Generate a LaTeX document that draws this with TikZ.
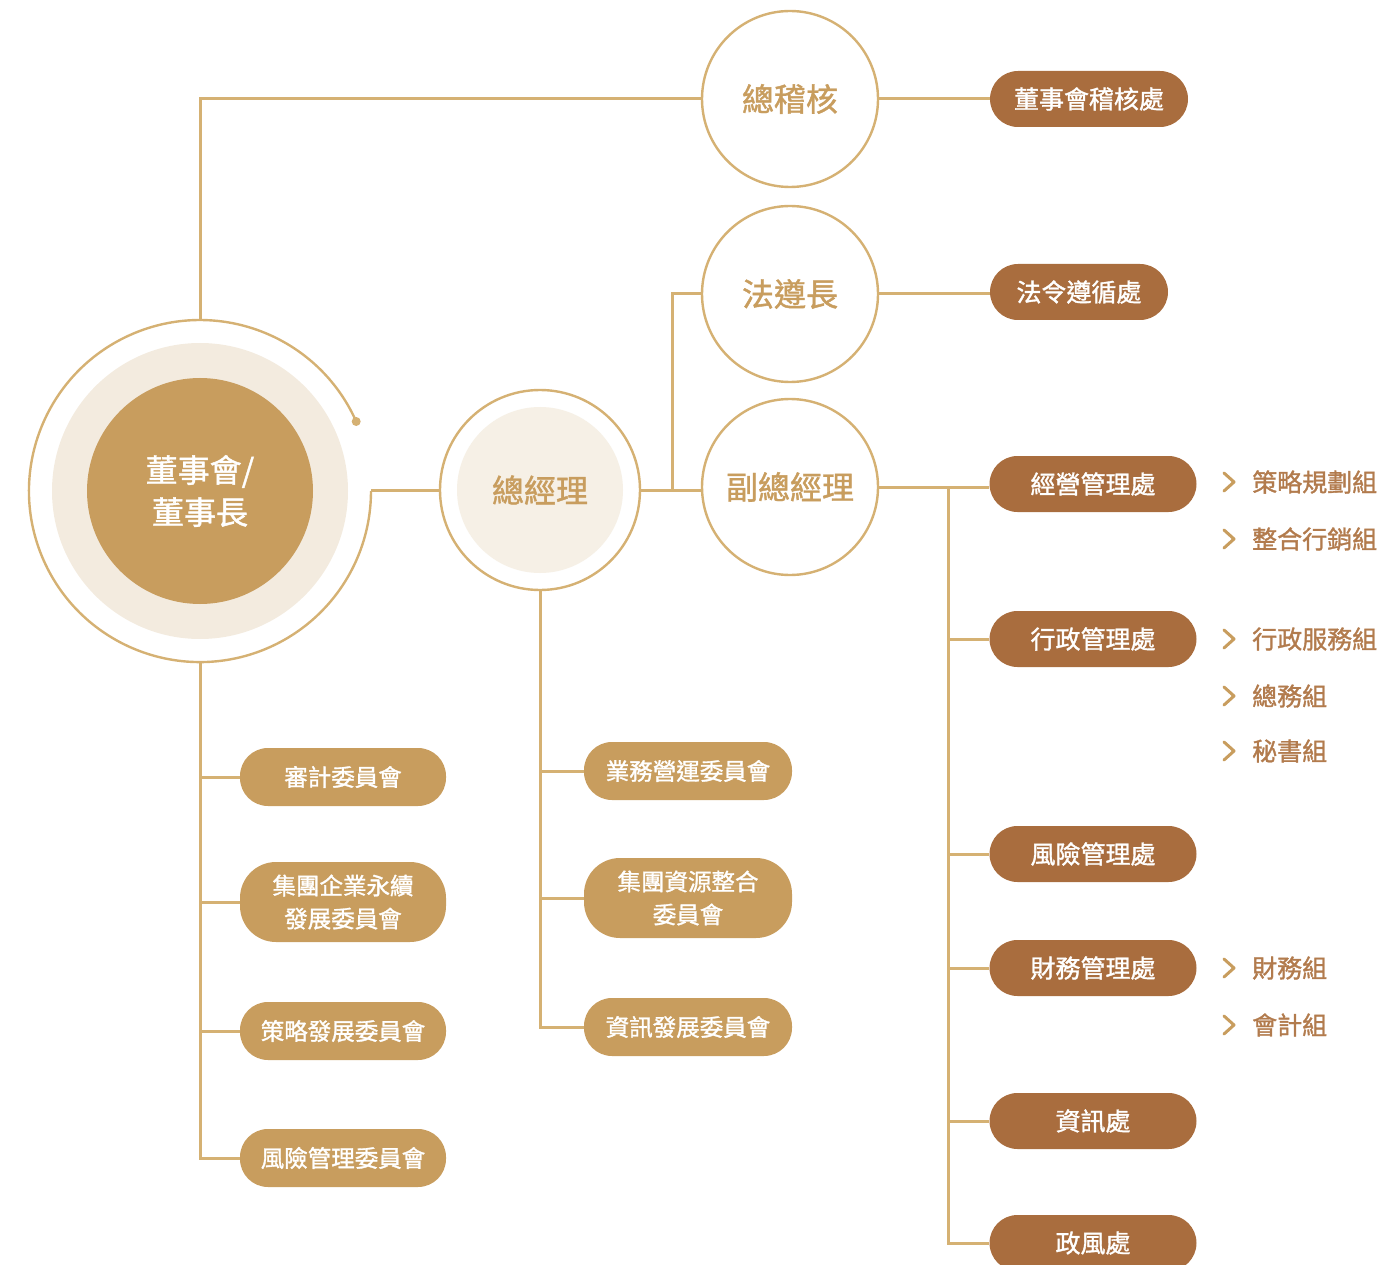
\documentclass[tikz,border=0pt]{standalone}
\usepackage{fontspec}
\setmainfont{Noto Sans CJK TC}[FakeBold=1.3]
\usetikzlibrary{calc}
\definecolor{gline}{HTML}{D5B173}
\definecolor{gold}{HTML}{C89D5E}
\definecolor{brownp}{HTML}{A96D3E}
\definecolor{beige}{HTML}{F3EBDF}
\definecolor{beigeb}{HTML}{F6F0E6}
\definecolor{subtxt}{HTML}{B27B4D}
\begin{document}
\begin{tikzpicture}[x=1pt,y=-1pt,
  conn/.style={draw=gline,line width=3pt},
  ringnode/.style={circle,draw=gline,line width=2.4pt,fill=white,minimum size=176pt,inner sep=0pt,font=\fontsize{32}{36}\selectfont,text=gold},
  gpill/.style={rounded corners=28pt,fill=gold,text=white,minimum height=58pt,minimum width=206pt,align=center,font=\fontsize{23.5}{33}\selectfont,inner sep=0pt},
  gpilltwo/.style={gpill,minimum height=80pt,rounded corners=36pt},
  bpill/.style={rounded corners=28pt,fill=brownp,text=white,minimum height=56pt,minimum width=207pt,font=\fontsize{25}{30}\selectfont,inner sep=0pt},
  subitem/.style={anchor=west,text=subtxt,font=\fontsize{25}{30}\selectfont,inner sep=0pt},
  chev/.style={draw=gold,line width=3pt,line cap=round,line join=round}]
\useasboundingbox (0,0) rectangle (1385,1265);

% board circle
\fill[beige] (200,491) circle (148pt);
\node[circle,fill=gold,minimum size=226pt,inner sep=0pt,text=white,align=center,font=\fontsize{32}{42}\selectfont] (board) at (200,491) {董事會/\\董事長};
\draw[gline,line width=2.4pt] (356.2,421.5) arc[start angle=24,end angle=360,radius=171pt];
\fill[gline] (356.2,421.5) circle (4.5pt);
\coordinate (ringR) at (371,490);
\coordinate (ringT) at (200,320);
\coordinate (ringB) at (200,662);

% circles
\node[ringnode] (audit) at (790,99) {總稽核};
\node[ringnode] (legal) at (790,294) {法遵長};
\node[ringnode] (vgm) at (790,487) {副總經理};
\node[circle,draw=gline,line width=2.4pt,fill=white,minimum size=200pt,inner sep=0pt] (gm) at (540,490) {};
\node[circle,fill=beigeb,minimum size=166pt,inner sep=0pt,text=gold,font=\fontsize{32}{36}\selectfont] (gmin) at (gm.center) {總經理};

% brown pills
\node[bpill,minimum width=198pt] (b1) at (1089,99) {董事會稽核處};
\node[bpill,minimum width=178pt] (b2) at (1079,292) {法令遵循處};
\node[bpill] (b3) at (1093,484) {經營管理處};
\node[bpill] (b4) at (1093,639) {行政管理處};
\node[bpill] (b5) at (1093,854) {風險管理處};
\node[bpill] (b6) at (1093,968) {財務管理處};
\node[bpill] (b7) at (1093,1121) {資訊處};
\node[bpill] (b8) at (1093,1243) {政風處};

% gold pills left
\node[gpill] (c1) at (343,777) {審計委員會};
\node[gpilltwo] (c2) at (343,902) {集團企業永續\\發展委員會};
\node[gpill] (c3) at (343,1031) {策略發展委員會};
\node[gpill] (c4) at (343,1158) {風險管理委員會};

% gold pills middle
\node[gpill,minimum width=208pt] (m1) at (688,771) {業務營運委員會};
\node[gpilltwo,minimum width=208pt] (m2) at (688,898) {集團資源整合\\委員會};
\node[gpill,minimum width=208pt] (m3) at (688,1027) {資訊發展委員會};

% sub items
\node[subitem] (s1) at (1252,482) {策略規劃組};
\node[subitem] (s2) at (1252,539) {整合行銷組};
\node[subitem] (s3) at (1252,639) {行政服務組};
\node[subitem] (s4) at (1252,696) {總務組};
\node[subitem] (s5) at (1252,751) {秘書組};
\node[subitem] (s6) at (1252,968) {財務組};
\node[subitem] (s7) at (1252,1025) {會計組};
\foreach \s in {s1,s2,s3,s4,s5,s6,s7}{
  \draw[chev] ($(\s.west)+(-28,-9)$) -- ($(\s.west)+(-18,0)$) -- ($(\s.west)+(-28,9)$);
}

% connectors
\draw[conn] (ringT) |- (audit.west);
\draw[conn] (audit.east) -- (b1.west);
\draw[conn] (ringR) -- (gm.west);
\draw[conn] (gm.east) -- (gm.east -| vgm.west);
\coordinate (j1) at (672,490);
\draw[conn] (j1) |- (legal.west);
\draw[conn] (legal.east) -- (legal.east -| b2.west);
\draw[conn] (vgm.east) -- (vgm.east -| b3.west);
\coordinate (t0) at (948,487);
\draw[conn] (t0) |- (b8.west);
\foreach \p in {b4,b5,b6,b7}{
  \draw[conn] (t0 |- \p.west) -- (\p.west);
}
\draw[conn] (gm.south) |- (m3.west);
\foreach \p in {m1,m2}{
  \draw[conn] (gm.south |- \p.west) -- (\p.west);
}
\draw[conn] (ringB) |- (c4.west);
\foreach \p in {c1,c2,c3}{
  \draw[conn] (ringB |- \p.west) -- (\p.west);
}
\end{tikzpicture}
\end{document}
